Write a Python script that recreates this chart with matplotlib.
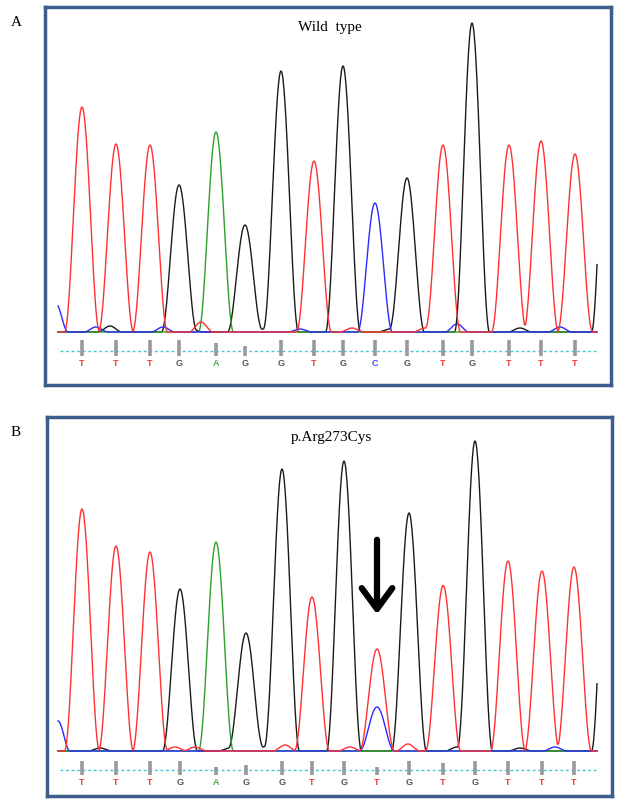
"""Sanger chromatograms: wild type vs p.Arg273Cys"""
import numpy as np
import matplotlib.pyplot as plt

# base calls (same sequence read in both panels, position 10 differs)
bases_a = ['T', 'T', 'T', 'G', 'A', 'G', 'G', 'T', 'G', 'C', 'G', 'T', 'G', 'T', 'T', 'T']
bases_b = ['T', 'T', 'T', 'G', 'A', 'G', 'G', 'T', 'G', 'T', 'G', 'T', 'G', 'T', 'T', 'T']

# scan position of each called base
pos_a = [82, 116, 150, 179, 216, 245, 281, 314, 343, 375, 407, 443, 472, 509, 541, 575]
pos_b = [82, 116, 150, 180, 216, 246, 282, 312, 344, 377, 409, 443, 475, 508, 542, 574]

# peak heights of the called base
height_a = [225, 188, 187, 147, 200, 107, 261, 171, 266, 129, 154, 187, 309, 187, 191, 178]
height_b = [242, 205, 199, 162, 209, 118, 282, 154, 290, 102, 238, 164, 310, 190, 180, 184]

# quality bars under each call
qual_a = [16, 16, 16, 16, 13, 10, 16, 16, 16, 16, 16, 16, 16, 16, 16, 16]
qual_b = [14, 14, 14, 14, 8, 10, 14, 14, 14, 8, 14, 12, 14, 14, 14, 14]

# extra (secondary / background) peaks: base, position, height
extra_a = [('C', 56, 28), ('C', 96, 5), ('G', 110, 6), ('C', 163, 5), ('G', 190, 4),
           ('T', 201, 10), ('G', 267, 4), ('C', 300, 3), ('T', 352, 4), ('G', 390, 3),
           ('C', 457, 8), ('T', 425, 4), ('G', 520, 4), ('C', 560, 5), ('G', 609, 300)]
extra_b = [('C', 58, 30), ('G', 100, 3), ('T', 175, 4), ('T', 195, 4), ('G', 230, 3),
           ('G', 267, 5), ('T', 285, 6), ('C', 377, 44), ('T', 408, 7), ('T', 350, 4),
           ('G', 457, 4), ('T', 450, 4), ('G', 520, 3), ('C', 555, 4), ('G', 609, 300)]

colors = {'T': '#ff3030', 'G': '#1a1a1a', 'A': '#2ca02c', 'C': '#2a2aff'}
label_colors = {'T': '#e8413c', 'G': '#555555', 'A': '#4caf50', 'C': '#4a4aff'}
border = '#3b5e8c'

plt.rcParams['font.family'] = ['Liberation Serif', 'DejaVu Serif']

fig = plt.figure(figsize=(6.25, 8.03), dpi=100)
W, H = 625, 803


def bump(x, p, h, w):
    d = np.clip(np.abs(x - p) / w, 0, 1)
    return h * np.cos(np.pi * d / 2) ** 2


def panel(box, baseline, bases, pos, height, qual, extra, title, letter, arrow=False):
    left, top, right, bottom = box
    ax = fig.add_axes([left / W, 1 - bottom / H, (right - left) / W, (bottom - top) / H])
    ax.set_xlim(left, right)
    ax.set_ylim(-(bottom - baseline), baseline - top)
    x = np.arange(58, 597.5, 0.5)
    traces = {b: np.zeros_like(x) for b in 'TGAC'}
    for b, p, h in zip(bases, pos, height):
        traces[b] += bump(x, p, h, 17.5)
    for b, p, h in extra:
        traces[b] += bump(x, p, h, 17.5 if h > 40 else 12)
    for b in ['G', 'A', 'C', 'T']:
        ax.plot(x, traces[b], color=colors[b], lw=1.0)
    # dotted guide line, quality bars and base letters
    ax.plot([60, 596], [-19, -19], color='#3fc6d6', lw=1.0, ls=(0, (2, 2)))
    for b, p, q in zip(bases, pos, qual):
        ax.plot([p, p], [-24, -24 + q], color='#999999', lw=2.6, solid_capstyle='butt')
        ax.text(p, -31, b, color=label_colors[b], fontsize=6.5, fontweight='bold',
                ha='center', va='center', family='Liberation Sans')
    ax.text((left + right) / 2 + 2, baseline - top - 20, title, ha='center', va='center', fontsize=11)
    fig.text(16 / W, 1 - (top + 14) / H, letter, ha='center', va='center', fontsize=11)
    if arrow:
        ax.annotate('', xy=(pos[9], 134), xytext=(pos[9], 214),
                    arrowprops=dict(arrowstyle='->,head_length=1.5,head_width=1.1',
                                    lw=4.5, color='black'))
    ax.set_xticks([])
    ax.set_yticks([])
    for sp in ax.spines.values():
        sp.set_color(border)
        sp.set_linewidth(2.5)
    return ax


panel((45, 8, 611, 386), 333, bases_a, pos_a, height_a, qual_a, extra_a, 'Wild  type', 'A')
panel((47, 418, 612, 797), 752, bases_b, pos_b, height_b, qual_b, extra_b, 'p.Arg273Cys', 'B', arrow=True)

fig.savefig('out.png', dpi=100)
